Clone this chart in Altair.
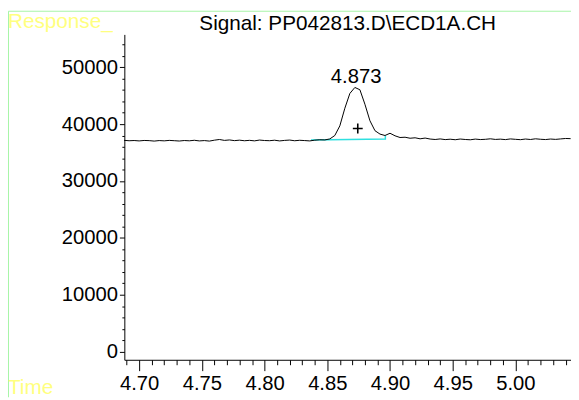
import altair as alt
import pandas as pd

# ---------------- data ----------------
time_min = [4.688, 4.692, 4.696, 4.700, 4.704, 4.708, 4.712, 4.716, 4.720, 4.724,
            4.728, 4.732, 4.736, 4.740, 4.744, 4.748, 4.752, 4.756, 4.760, 4.764,
            4.768, 4.772, 4.776, 4.780, 4.784, 4.788, 4.792, 4.796, 4.800, 4.804,
            4.808, 4.812, 4.816, 4.820, 4.824, 4.828, 4.832, 4.836, 4.840, 4.844,
            4.848, 4.852, 4.856, 4.860, 4.864, 4.868, 4.872, 4.876, 4.880, 4.884,
            4.888, 4.892, 4.896, 4.900, 4.904, 4.908, 4.912, 4.916, 4.920, 4.924,
            4.928, 4.932, 4.936, 4.940, 4.944, 4.948, 4.952, 4.956, 4.960, 4.964,
            4.968, 4.972, 4.976, 4.980, 4.984, 4.988, 4.992, 4.996, 5.000, 5.004,
            5.008, 5.012, 5.016, 5.020, 5.024, 5.028, 5.032, 5.036, 5.040, 5.044]
response = [37150, 37080, 37120, 37050, 37130, 37100, 37020, 37110, 37060, 37140,
            37090, 37030, 37120, 37070, 37160, 37050, 37110, 37020, 37180, 37300,
            37140, 37220, 37100, 37180, 37080, 37150, 37060, 37200, 37120, 37090,
            37170, 37050, 37140, 37200, 37080, 37160, 37110, 37050, 37180, 37250,
            37220, 37400, 38000, 39700, 42800, 45400, 46450, 46050, 43500, 40600,
            38850, 38250, 38000, 38400, 37950, 37650, 37700, 37520, 37600, 37420,
            37550, 37380, 37300, 37400, 37280, 37350, 37260, 37380, 37300, 37250,
            37370, 37290, 37330, 37420, 37310, 37360, 37280, 37400, 37330, 37270,
            37380, 37300, 37420, 37340, 37290, 37380, 37320, 37400, 37480, 37450]

baseline_time = [4.837, 4.8963, 4.8963]
baseline_resp = [37230, 37400, 37980]

peak_rt = [4.873]
peak_label = ["4.873"]
peak_top = [46450]
centroid_time = [4.8743]
centroid_resp = [39240]

title_text = "Signal: PP042813.D\\ECD1A.CH"
y_label = "Response_"
x_label = "Time"

x_ticks = [4.69, 4.70, 4.71, 4.72, 4.73, 4.74, 4.75, 4.76, 4.77, 4.78, 4.79, 4.80,
           4.81, 4.82, 4.83, 4.84, 4.85, 4.86, 4.87, 4.88, 4.89, 4.90, 4.91, 4.92,
           4.93, 4.94, 4.95, 4.96, 4.97, 4.98, 4.99, 5.00, 5.01, 5.02, 5.03, 5.04]
y_ticks = [0, 2000, 4000, 6000, 8000, 10000, 12000, 14000, 16000, 18000, 20000,
           22000, 24000, 26000, 28000, 30000, 32000, 34000, 36000, 38000, 40000,
           42000, 44000, 46000, 48000, 50000, 52000, 54000]

X_DOMAIN = [4.6882, 5.0443]
Y_DOMAIN = [-1440, 55780]

# ---------------- layout ----------------
W, H = 453, 330
PAD = {"left": 118, "top": 24, "right": 0, "bottom": 38}
FONT = "Liberation Sans"
YELLOW = "#ffff80"
GREEN = "#a6f5a6"
CYAN = "#2fe0e0"
FS = 20.5

signal = pd.DataFrame({"t": time_min, "r": response})
base = pd.DataFrame({"t": baseline_time, "r": baseline_resp, "o": [0, 1, 2]})
peak = pd.DataFrame({"t": peak_rt, "r": peak_top, "lab": peak_label})
cent = pd.DataFrame({"t": centroid_time, "r": centroid_resp})

xscale = alt.Scale(domain=X_DOMAIN, nice=False, zero=False)
yscale = alt.Scale(domain=Y_DOMAIN, nice=False, zero=False)

xmajor = "round(datum.value*100) % 5 === 0"
ymajor = "datum.value % 10000 === 0"

xaxis = alt.Axis(values=x_ticks, tickCount=200, format=".2f",
                 labelExpr=f"{xmajor} ? datum.label : ''",
                 tickSize={"condition": {"test": xmajor, "value": 11}, "value": 5},
                 labelPadding=3, labelFontSize=FS, labelFont=FONT, labelColor="black",
                 tickColor="black", domainColor="black", grid=False, title=None,
                 labelFlush=False, labelOverlap=False, labelBound=False)
yaxis = alt.Axis(values=y_ticks, tickCount=200, format="d",
                 labelExpr=f"{ymajor} ? datum.label : ''",
                 tickSize={"condition": {"test": ymajor, "value": 5}, "value": 2.5},
                 labelPadding=2, labelFontSize=FS, labelFont=FONT, labelColor="black",
                 tickColor="black", domainColor="black", grid=False, title=None,
                 labelFlush=False, labelOverlap=False, labelBound=False)

line = alt.Chart(signal).mark_line(color="black", strokeWidth=1, interpolate="linear").encode(
    x=alt.X("t:Q", scale=xscale, axis=xaxis),
    y=alt.Y("r:Q", scale=yscale, axis=yaxis),
)

baseline = alt.Chart(base).mark_line(color=CYAN, strokeWidth=1.5).encode(
    x=alt.X("t:Q", scale=xscale),
    y=alt.Y("r:Q", scale=yscale),
    order="o:Q",
)

peak_text = alt.Chart(peak).mark_text(font=FONT, fontSize=FS, color="black",
                                      baseline="alphabetic", dy=-5).encode(
    x=alt.X("t:Q", scale=xscale),
    y=alt.Y("r:Q", scale=yscale),
    text="lab:N",
)

plus = alt.Chart(cent).mark_point(shape="M -1 0 L 1 0 M 0 -1 L 0 1", filled=False,
                                  color="black", strokeWidth=1.6, size=100, opacity=1).encode(
    x=alt.X("t:Q", scale=xscale),
    y=alt.Y("r:Q", scale=yscale),
)

one = pd.DataFrame({"k": [0]})

title = alt.Chart(pd.DataFrame({"s": [title_text]})).mark_text(
    font=FONT, fontSize=21, color="black", align="center", baseline="alphabetic").encode(
    x=alt.value(226.5), y=alt.value(-4.8), text="s:N")

ylab = alt.Chart(pd.DataFrame({"s": [y_label]})).mark_text(
    font=FONT, fontSize=21, color=YELLOW, align="left", baseline="alphabetic").encode(
    x=alt.value(-118), y=alt.value(-7), text="s:N")

xlab = alt.Chart(pd.DataFrame({"s": [x_label]})).mark_text(
    font=FONT, fontSize=21, color=YELLOW, align="left", baseline="alphabetic").encode(
    x=alt.value(-118), y=alt.value(364.7), text="s:N")

border_left = alt.Chart(one).mark_rule(color=GREEN, strokeWidth=1).encode(
    x=alt.value(-117.5), y=alt.value(-23.5), y2=alt.value(368))
border_top = alt.Chart(one).mark_rule(color=GREEN, strokeWidth=1).encode(
    x=alt.value(-117.5), x2=alt.value(453), y=alt.value(-23.5))

chart = alt.layer(
    border_left, border_top, baseline, line, peak_text, plus, title, ylab, xlab
).properties(
    width=W, height=H, padding=PAD, autosize="none", background="white"
).configure_view(stroke=None)

chart.save("out.html", embed_options={"renderer": "svg", "actions": False})
